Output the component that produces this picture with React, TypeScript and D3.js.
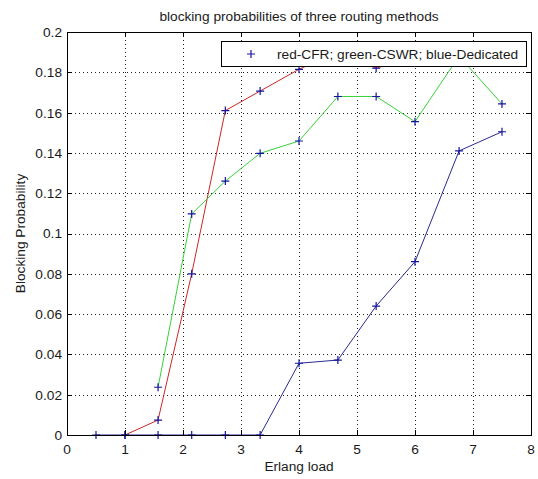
import { useRef, useEffect } from 'react';
import * as d3 from 'd3';

// Erlang load values (x) shared by the three routing methods
const loads = [0.5, 1, 1.57, 2.15, 2.73, 3.33, 4, 4.67, 5.33, 6, 6.76, 7.5];
// blocking probabilities, null = not plotted
const cfr = [null, 0, 0.0074, 0.08, 0.161, 0.1707, 0.1815, 0.19, 0.182, 0.188, 0.19, 0.19];
const cswr = [null, null, 0.0237, 0.1097, 0.126, 0.1398, 0.1459, 0.168, 0.168, 0.1555, 0.188, 0.1643];
const dedicated = [0, 0, 0, 0, 0, 0, 0.0356, 0.0372, 0.064, 0.086, 0.141, 0.1505];

const xTicks = [0, 1, 2, 3, 4, 5, 6, 7, 8];
const yTicks = [0, 0.02, 0.04, 0.06, 0.08, 0.1, 0.12, 0.14, 0.16, 0.18, 0.2];

const TITLE = "blocking probabilities of three routing methods";
const X_LABEL = "Erlang load";
const Y_LABEL = "Blocking Probability";
const LEGEND_TEXT = "red-CFR; green-CSWR; blue-Dedicated";

const FONT = "'Liberation Sans', Arial, sans-serif";
const MARKER = "#1414a0";

function BlockingChart() {
  const svgRef = useRef<SVGSVGElement>(null);

  useEffect(() => {
    const svg = d3.select(svgRef.current);
    svg.selectAll("*").remove();

    const totalW = 538, totalH = 479;
    const left = 67, right = 531, top = 32, bottom = 435;

    svg.attr("width", totalW).attr("height", totalH)
       .style("background", "#fff");

    const x = d3.scaleLinear().domain([0, 8]).range([left, right]);
    const y = d3.scaleLinear().domain([0, 0.2]).range([bottom, top]);

    const px = (v: number) => Math.round(v) + 0.5;

    // dotted grid
    const grid = svg.append("g")
      .attr("stroke", "#222")
      .attr("stroke-dasharray", "1,3")
      .attr("shape-rendering", "crispEdges");
    xTicks.slice(1, -1).forEach(t => {
      grid.append("line")
        .attr("x1", px(x(t))).attr("x2", px(x(t)))
        .attr("y1", top).attr("y2", bottom);
    });
    yTicks.slice(1, -1).forEach(t => {
      grid.append("line")
        .attr("x1", left).attr("x2", right)
        .attr("y1", px(y(t))).attr("y2", px(y(t)));
    });

    // series lines
    const series = [
      { values: cfr, color: "#c82828" },
      { values: cswr, color: "#38d038" },
      { values: dedicated, color: "#2a2a90" }
    ];

    const line = d3.line<[number, number | null]>()
      .defined(d => d[1] != null)
      .x(d => x(d[0]))
      .y(d => y(d[1] as number));

    series.forEach(s => {
      svg.append("path")
        .datum(loads.map((l, i) => [l, s.values[i]] as [number, number | null]))
        .attr("fill", "none")
        .attr("stroke", s.color)
        .attr("stroke-width", 1)
        .attr("d", line);
    });

    // "+" markers on every point
    const cross = (cx: number, cy: number, r = 4) =>
      `M${cx - r},${cy}H${cx + r}M${cx},${cy - r}V${cy + r}`;

    series.forEach(s => {
      svg.append("g")
        .selectAll("path")
        .data(loads.map((l, i) => [l, s.values[i]]).filter(d => d[1] != null))
        .enter()
        .append("path")
        .attr("d", d => cross(x(d[0] as number), y(d[1] as number)))
        .attr("stroke", MARKER)
        .attr("stroke-width", 1.2)
        .attr("fill", "none");
    });

    // axes box + inward ticks
    const axes = svg.append("g")
      .attr("stroke", "#000")
      .attr("shape-rendering", "crispEdges");
    axes.append("rect")
      .attr("x", px(left)).attr("y", px(top))
      .attr("width", Math.round(right - left)).attr("height", Math.round(bottom - top))
      .attr("fill", "none");
    const tl = 5;
    xTicks.forEach(t => {
      const xx = px(x(t));
      axes.append("line").attr("x1", xx).attr("x2", xx).attr("y1", bottom).attr("y2", bottom - tl);
      axes.append("line").attr("x1", xx).attr("x2", xx).attr("y1", top).attr("y2", top + tl);
    });
    yTicks.forEach(t => {
      const yy = px(y(t));
      axes.append("line").attr("x1", left).attr("x2", left + tl).attr("y1", yy).attr("y2", yy);
      axes.append("line").attr("x1", right).attr("x2", right - tl).attr("y1", yy).attr("y2", yy);
    });

    const text = svg.append("g")
      .style("font-family", FONT)
      .style("font-size", "13.7px")
      .attr("fill", "#1a1a1a");

    // tick labels
    text.selectAll("text.xt")
      .data(xTicks)
      .enter()
      .append("text")
      .attr("class", "xt")
      .attr("x", d => x(d))
      .attr("y", 454)
      .attr("text-anchor", "middle")
      .text(d => String(d));

    text.selectAll("text.yt")
      .data(yTicks)
      .enter()
      .append("text")
      .attr("class", "yt")
      .attr("x", 62)
      .attr("y", d => y(d))
      .attr("dy", "0.36em")
      .attr("text-anchor", "end")
      .text(d => String(+d.toFixed(2)));

    // labels
    text.append("text")
      .attr("x", (left + right) / 2).attr("y", 471)
      .attr("text-anchor", "middle")
      .text(X_LABEL);

    text.append("text")
      .attr("transform", `translate(25,${(top + bottom) / 2}) rotate(-90)`)
      .attr("text-anchor", "middle")
      .text(Y_LABEL);

    text.append("text")
      .attr("x", (left + right) / 2).attr("y", 20.5)
      .attr("text-anchor", "middle")
      .text(TITLE);

    // legend
    const lg = svg.append("g");
    lg.append("rect")
      .attr("x", 221.5).attr("y", 41.5)
      .attr("width", 305).attr("height", 25)
      .attr("fill", "#fff")
      .attr("stroke", "#000")
      .attr("shape-rendering", "crispEdges");
    lg.append("path")
      .attr("d", cross(251, 54))
      .attr("stroke", MARKER)
      .attr("stroke-width", 1.2);
    lg.append("text")
      .attr("x", 277).attr("y", 59)
      .style("font-family", FONT)
      .style("font-size", "13.7px")
      .attr("fill", "#1a1a1a")
      .text(LEGEND_TEXT);
  }, []);

  return <svg ref={svgRef} style={{ position: "absolute", left: 0, top: 0 }}></svg>;
}

export default function App() {
  return <BlockingChart />;
}
